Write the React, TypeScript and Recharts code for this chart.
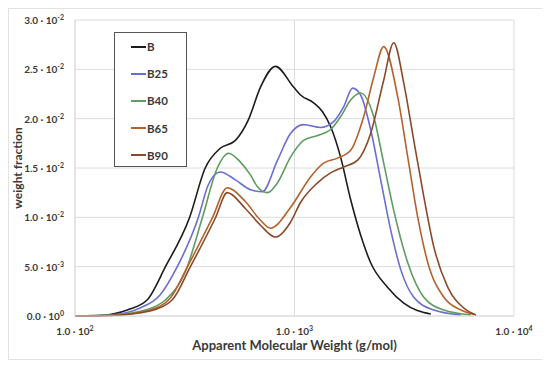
import { CartesianGrid, Line, LineChart, XAxis, YAxis } from 'recharts';

// apparent molecular weight (g/mol) and weight fraction
const bMw = [100, 130, 173, 213, 258, 332, 392, 459, 538, 617, 700, 819, 990, 1065, 1222, 1342, 1460, 1622, 1802, 2001, 2223, 2659, 3146, 4178];
const bVal = [0, 0.00005, 0.00061, 0.00162, 0.00497, 0.00993, 0.015, 0.017, 0.0178, 0.0199, 0.0232, 0.0253, 0.0232, 0.0224, 0.0216, 0.0207, 0.0192, 0.0161, 0.0118, 0.0082, 0.0054, 0.0029, 0.0013, 0.0002];

const b25Mw = [100, 145, 198, 244, 292, 364, 405, 459, 538, 630, 714, 837, 959, 1100, 1314, 1507, 1674, 1840, 2001, 2223, 2470, 2744, 3048, 3494, 4312, 5728];
const b25Val = [0, 0.0001, 0.00081, 0.00213, 0.00497, 0.00993, 0.0133, 0.0146, 0.0138, 0.0128, 0.0126, 0.0158, 0.0185, 0.0194, 0.0191, 0.0197, 0.0212, 0.0231, 0.0224, 0.0189, 0.0138, 0.0087, 0.0047, 0.0019, 0.0006, 0.0001];

const b40Mw = [100, 145, 209, 258, 318, 380, 445, 500, 567, 630, 678, 753, 837, 959, 1100, 1274, 1460, 1622, 1802, 2001, 2295, 2549, 2832, 3281, 3882, 4791, 6363];
const b40Val = [0, 0.0001, 0.00061, 0.00162, 0.00446, 0.00993, 0.015, 0.0165, 0.0156, 0.0143, 0.0131, 0.0125, 0.0135, 0.0161, 0.0178, 0.0183, 0.0189, 0.0202, 0.0219, 0.0226, 0.0202, 0.0155, 0.0107, 0.0054, 0.0019, 0.0006, 0.0001];

const b65Mw = [100, 145, 220, 272, 325, 422, 494, 597, 700, 777, 959, 1183, 1357, 1571, 1802, 2066, 2295, 2549, 2953, 3281, 3644, 4049, 4791, 5728, 6706];
const b65Val = [0, 0.00005, 0.00061, 0.00182, 0.00497, 0.00993, 0.013, 0.0116, 0.0097, 0.0089, 0.011, 0.0141, 0.0155, 0.016, 0.0168, 0.0202, 0.0242, 0.0273, 0.0222, 0.0161, 0.01, 0.0054, 0.0019, 0.0006, 0.0001];

const b90Mw = [100, 145, 220, 277, 335, 436, 494, 597, 700, 819, 959, 1065, 1274, 1460, 1674, 1940, 2223, 2549, 2832, 3146, 3494, 3882, 4312, 4995, 5912, 6706];
const b90Val = [0, 0.00005, 0.00051, 0.00162, 0.00497, 0.00993, 0.0125, 0.0109, 0.0092, 0.008, 0.0095, 0.0115, 0.0135, 0.0145, 0.0151, 0.0158, 0.0185, 0.0239, 0.0277, 0.0236, 0.0178, 0.0121, 0.007, 0.0029, 0.0008, 0.0001];

const xTicks = [100, 1000, 10000];
const yTicks = [0, 0.005, 0.01, 0.015, 0.02, 0.025, 0.03];

const FONT = 'Lato, "Open Sans", sans-serif';
const TEXT = '#3a3a3a';

const zip = (mw: number[], val: number[]) => mw.map((m, i) => ({ mw: m, value: val[i] }));

const series = [
  { name: 'B', color: '#1c1c1c', data: zip(bMw, bVal) },
  { name: 'B25', color: '#6a6ed2', data: zip(b25Mw, b25Val) },
  { name: 'B40', color: '#5f9c62', data: zip(b40Mw, b40Val) },
  { name: 'B65', color: '#b4622c', data: zip(b65Mw, b65Val) },
  { name: 'B90', color: '#8a4a2a', data: zip(b90Mw, b90Val) },
];

function sciParts(v: number): [string, string] {
  if (v === 0) return ['0.0', '0'];
  const exp = Math.floor(Math.log10(v) + 1e-9);
  const mant = v / Math.pow(10, exp);
  return [mant.toFixed(1), exp < 0 ? '-' + Math.abs(exp) : String(exp)];
}

function SciTick({ x, y, payload, anchor, dy }: any) {
  const [m, e] = sciParts(payload.value);
  return (
    <text x={x} y={y} dy={dy} textAnchor={anchor} fill={TEXT} fontFamily={FONT} fontSize={10} fontWeight="bold">
      <tspan>{m} · 10</tspan>
      <tspan dy={-4} fontSize={7}>{e}</tspan>
    </text>
  );
}

function LegendBox() {
  return (
    <div
      style={{
        position: 'absolute', left: 105, top: 23, width: 73, height: 135,
        border: '1px solid #555', background: '#fff', boxSizing: 'border-box',
      }}
    >
      {series.map((s) => (
        <div key={s.name} style={{ display: 'flex', alignItems: 'center', height: 27.2, paddingLeft: 16 }}>
          <span style={{ display: 'inline-block', width: 15, borderTop: `2px solid ${s.color}` }} />
          <span style={{ marginLeft: 1, fontFamily: FONT, fontSize: 11.5, fontWeight: 'bold', color: TEXT }}>{s.name}</span>
        </div>
      ))}
    </div>
  );
}

export default function App() {
  return (
    <div style={{ position: 'relative', width: 534, height: 350, border: '1px solid #e2e2e2', background: '#fff' }}>
      <LineChart width={534} height={350} margin={{ top: 11, right: 29, bottom: 13, left: 6 }}>
        <CartesianGrid stroke="#dcdcdc" strokeWidth={1} />
        <XAxis
          dataKey="mw"
          type="number"
          scale="log"
          domain={[100, 10000]}
          ticks={xTicks}
          allowDataOverflow
          axisLine={{ stroke: '#dcdcdc' }}
          tickLine={false}
          height={30}
          tick={(p: any) => <SciTick {...p} anchor="middle" dy={11} />}
          label={{ value: 'Apparent Molecular Weight (g/mol)', position: 'insideBottom', offset: -4, fill: TEXT, fontFamily: FONT, fontSize: 13, fontWeight: 'bold' }}
        />
        <YAxis
          type="number"
          domain={[0, 0.03]}
          ticks={yTicks}
          axisLine={{ stroke: '#dcdcdc' }}
          tickLine={false}
          width={60}
          tick={(p: any) => <SciTick {...p} anchor="end" dy={4} x={p.x - 3} />}
          label={{ value: 'weight fraction', angle: -90, position: 'insideLeft', offset: 3, fill: TEXT, fontFamily: FONT, fontSize: 12, fontWeight: 'bold', style: { textAnchor: 'middle' } }}
        />
        {series.map((s) => (
          <Line
            key={s.name}
            data={s.data}
            dataKey="value"
            name={s.name}
            type="monotone"
            stroke={s.color}
            strokeWidth={1.6}
            dot={false}
            isAnimationActive={false}
          />
        ))}
      </LineChart>
      <LegendBox />
    </div>
  );
}
